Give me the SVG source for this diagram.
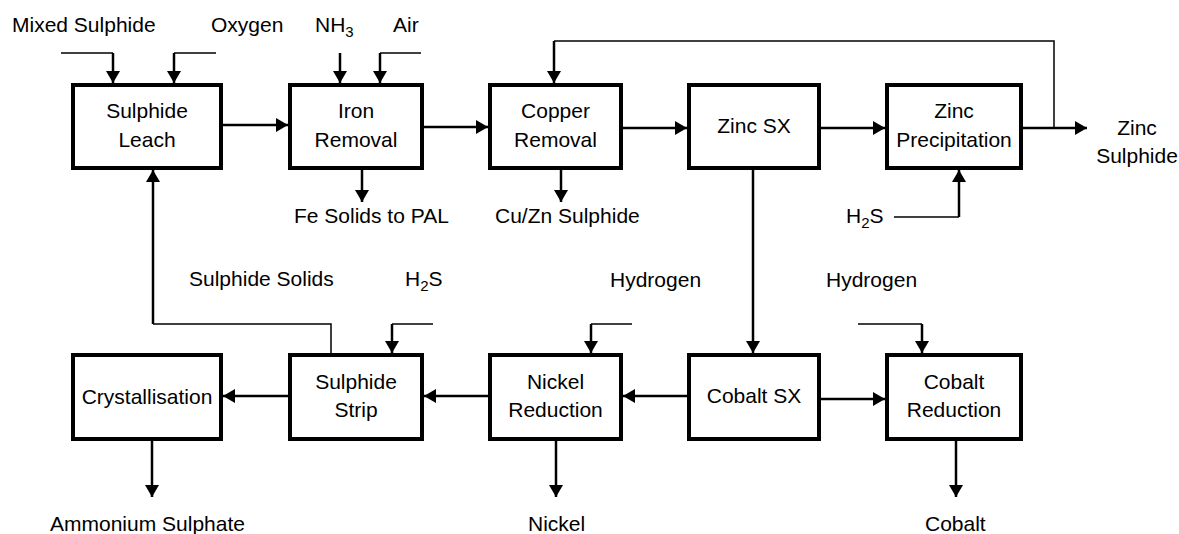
<svg xmlns="http://www.w3.org/2000/svg" width="1179" height="534" viewBox="0 0 1179 534">
<style>
.box{fill:#fff;stroke:#000;stroke-width:4}
.t{font-family:"Liberation Sans",Arial,sans-serif;font-size:21px;fill:#000}
.c{text-anchor:middle}
.thick{fill:none;stroke:#000;stroke-width:2.5}
.thin{fill:none;stroke:#000;stroke-width:1.5}
</style>
<defs>
<marker id="ah" markerUnits="userSpaceOnUse" markerWidth="13" markerHeight="14" refX="12" refY="7" orient="auto">
<path d="M0,0 L12,7 L0,14 z" fill="#000"/>
</marker>
</defs>
<rect width="1179" height="534" fill="#fff"/>
<g id="connectors">
<!-- top feeds -->
<path class="thin" d="M61,53 H113"/>
<path class="thick" d="M113,53 V83" marker-end="url(#ah)"/>
<path class="thin" d="M216,53 H174"/>
<path class="thick" d="M174,53 V83" marker-end="url(#ah)"/>
<path class="thick" d="M340,53 V83" marker-end="url(#ah)"/>
<path class="thin" d="M421,53 H380"/>
<path class="thick" d="M380,53 V83" marker-end="url(#ah)"/>
<!-- recycle -->
<path class="thin" d="M1054,128 V41 H554"/>
<path class="thick" d="M554,41 V83" marker-end="url(#ah)"/>
<!-- main row 1 -->
<path class="thick" d="M223,125 H288" marker-end="url(#ah)"/>
<path class="thick" d="M424,127 H488" marker-end="url(#ah)"/>
<path class="thick" d="M623,128 H687" marker-end="url(#ah)"/>
<path class="thick" d="M821,128 H885" marker-end="url(#ah)"/>
<path class="thick" d="M1023,128 H1087" marker-end="url(#ah)"/>
<!-- down outputs row 1 -->
<path class="thick" d="M362,170 V202" marker-end="url(#ah)"/>
<path class="thick" d="M561,170 V202" marker-end="url(#ah)"/>
<path class="thick" d="M753,170 V353" marker-end="url(#ah)"/>
<!-- H2S to zinc precip -->
<path class="thin" d="M894,217 H959"/>
<path class="thick" d="M959,217 V170" marker-end="url(#ah)"/>
<!-- sulphide solids recycle -->
<path class="thin" d="M331,353 V324 H153"/>
<path class="thick" d="M153,324 V170" marker-end="url(#ah)"/>
<!-- H2S to strip -->
<path class="thin" d="M433,324 H392"/>
<path class="thick" d="M392,324 V353" marker-end="url(#ah)"/>
<!-- hydrogen feeds -->
<path class="thin" d="M632,324 H591"/>
<path class="thick" d="M591,324 V353" marker-end="url(#ah)"/>
<path class="thin" d="M858,324 H922"/>
<path class="thick" d="M922,324 V353" marker-end="url(#ah)"/>
<!-- main row 2 -->
<path class="thick" d="M687,396 H623" marker-end="url(#ah)"/>
<path class="thick" d="M821,399 H885" marker-end="url(#ah)"/>
<path class="thick" d="M488,396 H424" marker-end="url(#ah)"/>
<path class="thick" d="M288,396 H223" marker-end="url(#ah)"/>
<!-- down outputs row 2 -->
<path class="thick" d="M152,441 V497" marker-end="url(#ah)"/>
<path class="thick" d="M556,441 V497" marker-end="url(#ah)"/>
<path class="thick" d="M956,441 V497" marker-end="url(#ah)"/>
</g>
<g id="sulphide-leach"><rect class="box" x="73" y="85" width="148" height="83"/><text class="t c" x="147" y="118">Sulphide</text><text class="t c" x="147" y="147">Leach</text></g>
<g id="iron-removal"><rect class="box" x="290" y="85" width="132" height="83"/><text class="t c" x="356" y="118">Iron</text><text class="t c" x="356" y="147">Removal</text></g>
<g id="copper-removal"><rect class="box" x="490" y="85" width="131" height="83"/><text class="t c" x="555.5" y="118">Copper</text><text class="t c" x="555.5" y="147">Removal</text></g>
<g id="zinc-sx"><rect class="box" x="689" y="85" width="130" height="83"/><text class="t c" x="754" y="133">Zinc SX</text></g>
<g id="zinc-precipitation"><rect class="box" x="887" y="85" width="134" height="83"/><text class="t c" x="954" y="118">Zinc</text><text class="t c" x="954" y="147">Precipitation</text></g>
<g id="crystallisation"><rect class="box" x="73" y="355" width="148" height="84"/><text class="t c" x="147" y="404">Crystallisation</text></g>
<g id="sulphide-strip"><rect class="box" x="290" y="355" width="132" height="84"/><text class="t c" x="356" y="389">Sulphide</text><text class="t c" x="356" y="417">Strip</text></g>
<g id="nickel-reduction"><rect class="box" x="490" y="355" width="131" height="84"/><text class="t c" x="555.5" y="389">Nickel</text><text class="t c" x="555.5" y="417">Reduction</text></g>
<g id="cobalt-sx"><rect class="box" x="689" y="355" width="130" height="84"/><text class="t c" x="754" y="403">Cobalt SX</text></g>
<g id="cobalt-reduction"><rect class="box" x="887" y="355" width="134" height="84"/><text class="t c" x="954" y="389">Cobalt</text><text class="t c" x="954" y="417">Reduction</text></g>
<g id="labels">
<text class="t" x="12" y="32">Mixed Sulphide</text>
<text class="t" x="211" y="32">Oxygen</text>
<text class="t" x="315" y="32">NH<tspan dy="5" font-size="15">3</tspan></text>
<text class="t" x="393" y="32">Air</text>
<text class="t" x="294" y="223">Fe Solids to PAL</text>
<text class="t" x="495" y="223">Cu/Zn Sulphide</text>
<text class="t" x="846" y="223">H<tspan dy="5" font-size="15">2</tspan><tspan dy="-5">S</tspan></text>
<text class="t c" x="1137" y="135">Zinc</text>
<text class="t c" x="1137" y="163">Sulphide</text>
<text class="t" x="189" y="286">Sulphide Solids</text>
<text class="t" x="405" y="286">H<tspan dy="5" font-size="15">2</tspan><tspan dy="-5">S</tspan></text>
<text class="t" x="610" y="287">Hydrogen</text>
<text class="t" x="826" y="287">Hydrogen</text>
<text class="t" x="50" y="531">Ammonium Sulphate</text>
<text class="t" x="528" y="531">Nickel</text>
<text class="t" x="925" y="531">Cobalt</text>
</g>
</svg>
